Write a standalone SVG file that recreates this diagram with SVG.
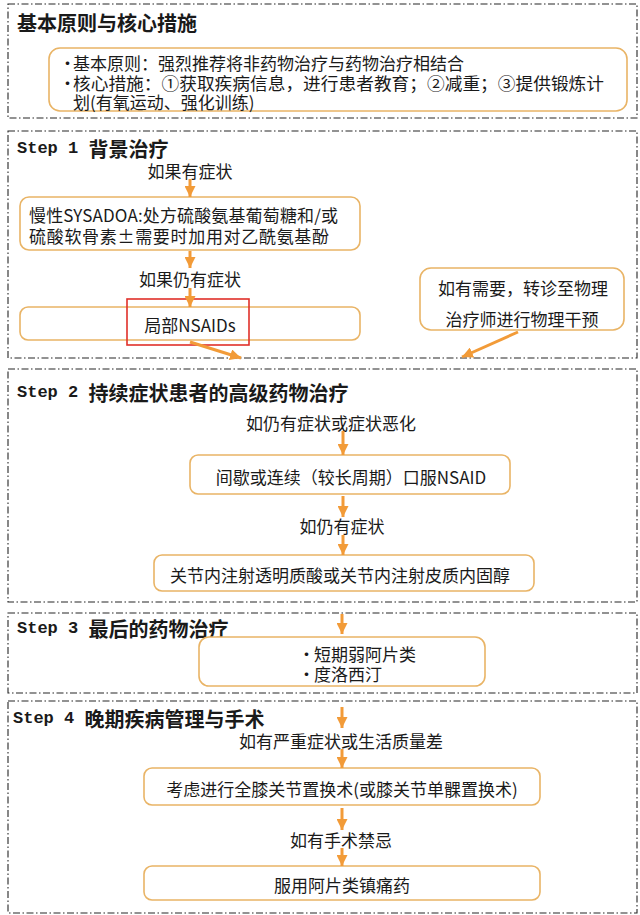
<svg xmlns="http://www.w3.org/2000/svg" width="640" height="915" viewBox="0 0 640 915">
  <defs>
    <marker id="head" viewBox="0 0 10 10" refX="10" refY="5" markerWidth="11" markerHeight="11" markerUnits="userSpaceOnUse" orient="auto">
      <path d="M0,0 L10,5 L0,10 z" fill="#F29B38"/>
    </marker>
    <style>
      .frame { fill: #ffffff; stroke: #262626; stroke-width: 1.1; stroke-dasharray: 7 2.5 1.5 2.5; }
      .box { fill: #ffffff; stroke: #E9B466; stroke-width: 1.6; }
      .hl { fill: none; stroke: #E0302A; stroke-width: 1.6; }
      .arrow { stroke: #F29B38; stroke-width: 3; fill: none; marker-end: url(#head); }
      text { font-family: "Noto Sans CJK SC", "Noto Sans", sans-serif; fill: #1a1a1a; dominant-baseline: central; }
      .title { font-size: 20px; font-weight: 700; }
      .step { font-family: "Liberation Mono", "DejaVu Sans Mono", monospace; font-size: 17px; font-weight: 700; }
      .body { font-size: 17px; }
      .mid { text-anchor: middle; }
    </style>
  </defs>

  <rect width="640" height="915" fill="#ffffff"/>

  <!-- section frames -->
  <g id="frames">
    <rect class="frame" x="8" y="4" width="629" height="114"/>
    <rect class="frame" x="8" y="131" width="629" height="227"/>
    <rect class="frame" x="8" y="369" width="629" height="233"/>
    <rect class="frame" x="8" y="613" width="629" height="80"/>
    <rect class="frame" x="8" y="701" width="629" height="212"/>
  </g>

  <!-- section titles -->
  <g id="titles">
    <text class="title" x="17" y="22">基本原则与核心措施</text>
    <text class="title" x="17" y="148"><tspan class="step">Step 1 </tspan>背景治疗</text>
    <text class="title" x="17" y="392"><tspan class="step">Step 2 </tspan>持续症状患者的高级药物治疗</text>
    <text class="title" x="17" y="628"><tspan class="step">Step 3 </tspan>最后的药物治疗</text>
    <text class="title" x="13" y="718"><tspan class="step">Step 4 </tspan>晚期疾病管理与手术</text>
  </g>

  <!-- principles -->
  <g id="principles">
    <rect class="box" x="49" y="48" width="578" height="63" rx="11"/>
    <text class="body" y="62"><tspan x="59">•</tspan><tspan x="73">基本原则：强烈推荐将非药物治疗与药物治疗相结合</tspan></text>
    <text class="body" y="82"><tspan x="59">•</tspan><tspan x="73" textLength="531" lengthAdjust="spacingAndGlyphs">核心措施：①获取疾病信息，进行患者教育；②减重；③提供锻炼计</tspan></text>
    <text class="body" x="73" y="101">划(有氧运动、强化训练)</text>
  </g>

  <!-- Step 1 -->
  <g id="s1-cond1"><text class="body mid" x="190" y="170">如果有症状</text></g>
  <g id="s1-sysadoa">
    <rect class="box" x="20" y="197" width="340" height="53" rx="9"/>
    <text class="body" x="29" y="214" textLength="309" lengthAdjust="spacing">慢性SYSADOA:处方硫酸氨基葡萄糖和/或</text>
    <text class="body" x="29" y="235" textLength="300" lengthAdjust="spacing">硫酸软骨素±需要时加用对乙酰氨基酚</text>
  </g>
  <g id="s1-cond2"><text class="body mid" x="190" y="278">如果仍有症状</text></g>
  <g id="s1-topical">
    <rect class="box" x="20" y="307" width="340" height="33" rx="8"/>
    <text class="body mid" x="190" y="324">局部NSAIDs</text>
    <rect class="hl" x="127" y="299" width="122" height="46"/>
  </g>
  <g id="s1-physio">
    <rect class="box" x="420" y="268" width="204" height="62" rx="11"/>
    <text class="body mid" x="523" y="287">如有需要，转诊至物理</text>
    <text class="body mid" x="522" y="318">治疗师进行物理干预</text>
  </g>

  <!-- Step 2 -->
  <g id="s2-cond1"><text class="body mid" x="331" y="422">如仍有症状或症状恶化</text></g>
  <g id="s2-oral">
    <rect class="box" x="190" y="455" width="320" height="39" rx="8"/>
    <text class="body mid" x="351" y="476">间歇或连续（较长周期）口服NSAID</text>
  </g>
  <g id="s2-cond2"><text class="body mid" x="342" y="525">如仍有症状</text></g>
  <g id="s2-inject">
    <rect class="box" x="154" y="555" width="380" height="36" rx="8"/>
    <text class="body mid" x="340" y="574">关节内注射透明质酸或关节内注射皮质内固醇</text>
  </g>

  <!-- Step 3 -->
  <g id="s3-drugs">
    <rect class="box" x="199" y="637" width="286" height="49" rx="10"/>
    <text class="body" y="653"><tspan x="298">•</tspan><tspan x="314">短期弱阿片类</tspan></text>
    <text class="body" y="673"><tspan x="298">•</tspan><tspan x="314">度洛西汀</tspan></text>
  </g>

  <!-- Step 4 -->
  <g id="s4-cond1"><text class="body mid" x="341" y="740">如有严重症状或生活质量差</text></g>
  <g id="s4-surgery">
    <rect class="box" x="144" y="768" width="396" height="37" rx="8"/>
    <text class="body mid" x="342" y="788">考虑进行全膝关节置换术(或膝关节单髁置换术)</text>
  </g>
  <g id="s4-cond2"><text class="body mid" x="341" y="839">如有手术禁忌</text></g>
  <g id="s4-opioid">
    <rect class="box" x="144" y="866" width="396" height="34" rx="8"/>
    <text class="body mid" x="342" y="884">服用阿片类镇痛药</text>
  </g>

  <!-- connectors -->
  <g id="connectors">
    <line class="arrow" x1="190" y1="179" x2="190" y2="197"/>
    <line class="arrow" x1="190" y1="251" x2="190" y2="268"/>
    <line class="arrow" x1="190" y1="288" x2="190" y2="307"/>
    <line class="arrow" x1="190" y1="342" x2="241" y2="358"/>
    <line class="arrow" x1="518" y1="332" x2="462" y2="357"/>
    <line class="arrow" x1="343" y1="431" x2="343" y2="455"/>
    <line class="arrow" x1="343" y1="496" x2="343" y2="517"/>
    <line class="arrow" x1="343" y1="535" x2="343" y2="555"/>
    <line class="arrow" x1="342" y1="614" x2="342" y2="634"/>
    <line class="arrow" x1="342" y1="707" x2="342" y2="728"/>
    <line class="arrow" x1="342" y1="749" x2="342" y2="768"/>
    <line class="arrow" x1="342" y1="808" x2="342" y2="830"/>
    <line class="arrow" x1="342" y1="848" x2="342" y2="866"/>
  </g>
</svg>
